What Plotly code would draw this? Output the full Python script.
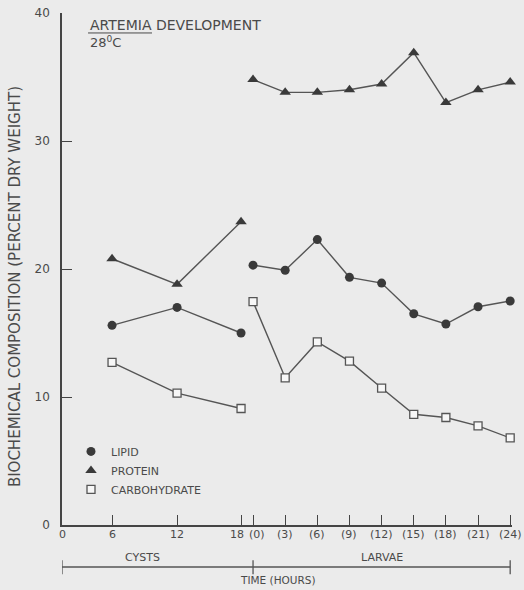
import plotly.graph_objects as go

# ---------------- data ----------------
cyst_hours = [6, 12, 18]
larva_hours = [0, 3, 6, 9, 12, 15, 18, 21, 24]

lipid_cyst = [15.6, 17.0, 15.0]
lipid_larva = [20.3, 19.9, 22.3, 19.35, 18.9, 16.5, 15.7, 17.05, 17.5]

protein_cyst = [20.8, 18.8, 23.7]
protein_larva = [34.8, 33.8, 33.8, 34.0, 34.45, 36.9, 33.0, 34.0, 34.6]

carb_cyst = [12.7, 10.3, 9.1]
carb_larva = [17.45, 11.5, 14.3, 12.8, 10.7, 8.65, 8.4, 7.75, 6.8]

cyst_tick_hours = [0, 6, 12, 18]
cyst_tick_labels = ["0", "6", "12", "18"]
larva_tick_labels = ["(0)", "(3)", "(6)", "(9)", "(12)", "(15)", "(18)", "(21)", "(24)"]

y_ticks = [0, 10, 20, 30, 40]

series_names = ["LIPID", "PROTEIN", "CARBOHYDRATE"]

# ---------------- axis layout (composite time axis) ----------------
# position of cyst tick marks on the composite axis, and larval offset
CYST_AXIS_POS = {0: 0.0, 6: 4.67, 12: 10.74, 18: 16.71}
LARVA_OFFSET = 17.83
X_MAX = 42.0


def cx(h):
    return CYST_AXIS_POS[h]


def lx(h):
    return LARVA_OFFSET + h


def series_x():
    return [cx(h) for h in cyst_hours] + [None] + [lx(h) for h in larva_hours]


TEXT = "#4a4a4a"
LINE = "#555555"
MARK = "#3a3a3a"
BG = "#ebebeb"
FONT = "DejaVu Sans"

markers = [
    dict(symbol="circle", size=9, color=MARK),
    dict(symbol="triangle-up", size=10, color=MARK),
    dict(symbol="square", size=8, color="#f7f7f7", line=dict(color=LINE, width=1.3)),
]
values = [
    lipid_cyst + [None] + lipid_larva,
    protein_cyst + [None] + protein_larva,
    carb_cyst + [None] + carb_larva,
]

fig = go.Figure()
for name, vals, mk in zip(series_names, values, markers):
    fig.add_trace(go.Scatter(
        x=series_x(), y=vals, mode="lines+markers", name=name,
        connectgaps=False, showlegend=False, hoverinfo="x+y",
        line=dict(color=LINE, width=1.4), marker=mk, cliponaxis=False,
    ))
# legend entries (markers only, as in the original key)
for name, mk in zip(series_names, markers):
    fig.add_trace(go.Scatter(x=[None], y=[None], mode="markers", name=name,
                             marker=mk, showlegend=True))

annotations = []
# x tick labels
for h, lab in zip(cyst_tick_hours, cyst_tick_labels):
    shift = -4 if h == 18 else 0
    annotations.append(dict(x=cx(h), y=0, xref="x", yref="paper", text=lab,
                            showarrow=False, xanchor="center", yanchor="middle",
                            yshift=-9, xshift=shift,
                            font=dict(family=FONT, size=11, color=TEXT)))
for h, lab in zip(larva_hours, larva_tick_labels):
    shift = 4 if h == 0 else 0
    annotations.append(dict(x=lx(h), y=0, xref="x", yref="paper", text=lab,
                            showarrow=False, xanchor="center", yanchor="middle",
                            yshift=-9, xshift=shift,
                            font=dict(family=FONT, size=11, color=TEXT)))

# group labels and axis titles
annotations += [
    dict(x=7.47, y=-0.0625, xref="x", yref="paper", text="CYSTS", showarrow=False,
         yanchor="middle", font=dict(family=FONT, size=11, color=TEXT)),
    dict(x=29.9, y=-0.0625, xref="x", yref="paper", text="LARVAE", showarrow=False,
         yanchor="middle", font=dict(family=FONT, size=11, color=TEXT)),
    dict(x=20.2, y=-0.107, xref="x", yref="paper", text="TIME (HOURS)", showarrow=False,
         yanchor="middle", font=dict(family=FONT, size=10.5, color=TEXT)),
    dict(x=-0.104, y=0.465, xref="paper", yref="paper",
         text="BIOCHEMICAL COMPOSITION (PERCENT DRY WEIGHT)",
         textangle=-90, showarrow=False, xanchor="center", yanchor="middle",
         font=dict(family=FONT, size=15, color=TEXT)),
    dict(x=2.43, y=0.977, xref="x", yref="paper", text="ARTEMIA DEVELOPMENT",
         showarrow=False, xanchor="left", yanchor="middle",
         font=dict(family=FONT, size=14, color=TEXT)),
    dict(x=2.43, y=0.944, xref="x", yref="paper", text="28<sup>0</sup>C",
         showarrow=False, xanchor="left", yanchor="middle",
         font=dict(family=FONT, size=13, color=TEXT)),
]

shapes = [
    # underline of ARTEMIA
    dict(type="line", xref="x", yref="paper", x0=2.43, x1=8.4, y0=0.961, y1=0.961,
         line=dict(color=TEXT, width=1)),
    # time bracket
    dict(type="line", xref="x", yref="paper", x0=0, x1=lx(24), y0=-0.082, y1=-0.082,
         line=dict(color=LINE, width=1.3)),
]
for xb in [0, LARVA_OFFSET, lx(24)]:
    shapes.append(dict(type="line", xref="x", yref="paper", x0=xb, x1=xb,
                       y0=-0.069, y1=-0.096, line=dict(color=LINE, width=1.3)))

tickvals = [cx(h) for h in cyst_tick_hours] + [lx(h) for h in larva_hours]

fig.update_layout(
    width=524, height=590,
    margin=dict(l=62, r=12, t=13, b=65, autoexpand=False),
    paper_bgcolor=BG, plot_bgcolor=BG,
    font=dict(family=FONT, size=11, color=TEXT),
    showlegend=True,
    legend=dict(x=0.02, y=0.172, xanchor="left", yanchor="top",
                bgcolor="rgba(0,0,0,0)", borderwidth=0,
                font=dict(family=FONT, size=11, color=TEXT),
                itemwidth=30, tracegroupgap=0),
    annotations=annotations,
    shapes=shapes,
    xaxis=dict(range=[0, X_MAX], showgrid=False, zeroline=False, automargin=False,
               showline=True, linecolor="#444", linewidth=1.5,
               tickvals=tickvals, ticks="inside", ticklen=10, tickwidth=1.3,
               tickcolor="#444", showticklabels=False, fixedrange=True),
    yaxis=dict(range=[0, 40], showgrid=False, zeroline=False, automargin=False,
               showline=True, linecolor="#444", linewidth=1.5,
               tickvals=y_ticks, ticktext=[str(v) for v in y_ticks],
               ticks="inside", ticklen=10, tickwidth=1.3, tickcolor="#444",
               ticklabelstandoff=8,
               tickfont=dict(family=FONT, size=12, color=TEXT), fixedrange=True),
)

fig.write_html(
    "out.html",
    config={"displayModeBar": False},
    post_script="document.body.style.margin='0';"
                "document.body.style.overflow='hidden';"
                "document.body.style.background='#ebebeb';",
)
